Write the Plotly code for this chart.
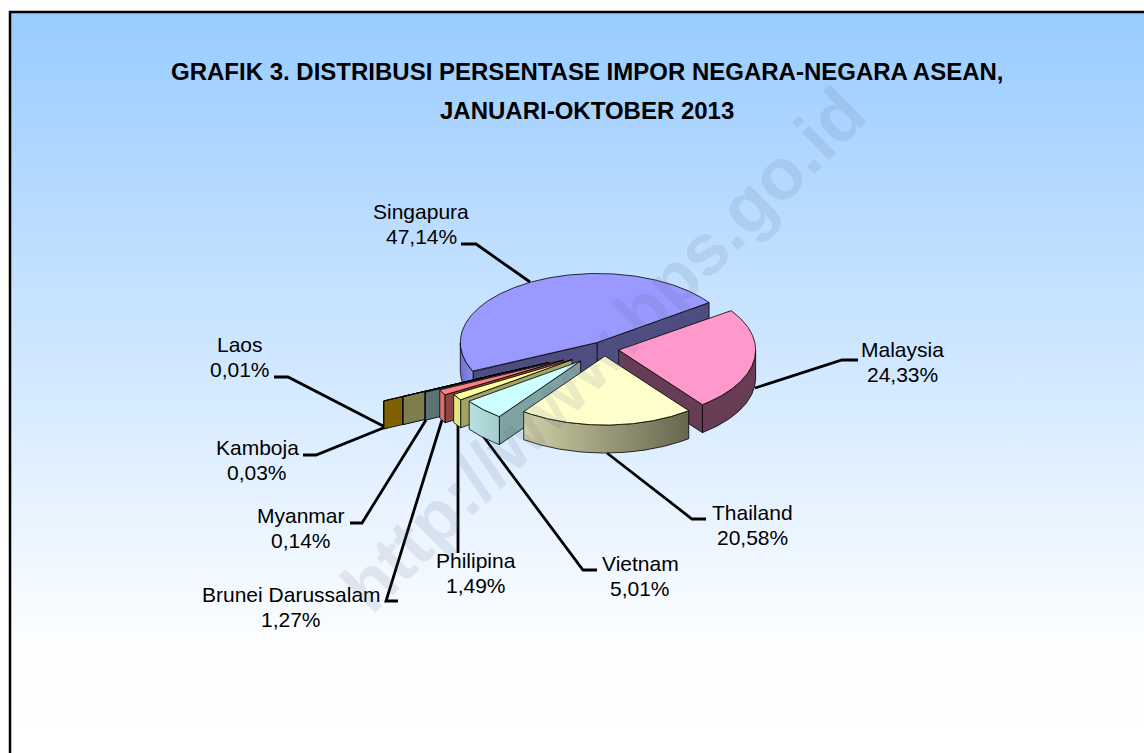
import numpy as np
import plotly.graph_objects as go

COUNTRIES = ["Singapura", "Malaysia", "Thailand", "Vietnam", "Philipina",
             "Brunei Darussalam", "Myanmar", "Kamboja", "Laos"]
SHARES = [47.14, 24.33, 20.58, 5.01, 1.49, 1.27, 0.14, 0.03, 0.01]
TITLE_LINES = ["GRAFIK 3. DISTRIBUSI PERSENTASE IMPOR NEGARA-NEGARA ASEAN,",
               "JANUARI-OKTOBER 2013"]
WATERMARK = "http://www.bps.go.id"

# pie projection, pixels
W, H = 1144, 753
CX, CY = 604.8, 349
RX, RY = 137, 69
DEPTH = 28
START_ANGLE = 205
EXPLODE = [15, 14, 14, 34, 39, 47, 62, 86, 107]

TOP_COL = ["#9999ff", "#ff99cc", "#ffffcc", "#ccffff", "#ffff99",
           "#ff8080", "#669999", "#999966", "#cc9900"]
CUT_COL = ["#4d4d80", "#663d55", "#80806a", "#7fa3a3", "#a3a366",
           "#8c4545", "#5c7373", "#7d7d4e", "#806000"]
WALL_COL = [("#7070d0", "#8a8ae6"), ("#663d55", "#663d55"), ("#cfcfa6", "#66664f"),
            ("#b9e0e0", "#a3cccc"), ("#e6e680", "#e0e080"), ("#e07070", "#d96c6c"),
            ("#5c7373", "#5c7373"), ("#7d7d4e", "#7d7d4e"), ("#806000", "#806000")]
DRAW_ORDER = [0, 8, 7, 6, 5, 4, 3, 1, 2]

# label centre, then leader line from the label to the slice
LABEL_POS = [(421, 224), (902, 362), (752, 525), (640, 576), (476, 573),
             (291, 607), (301, 528), (257, 460), (240, 357)]
LEADERS = [[(461, 244), (476, 244), (530, 282)],
           [(858, 360), (842, 360), (755, 388)],
           [(706, 519), (692, 519), (607, 453)],
           [(597, 570), (583, 570), (483, 436)],
           [(458, 553), (458, 425)],
           [(398, 601), (386, 601), (442, 420)],
           [(350, 523), (362, 523), (426, 420)],
           [(303, 455), (316, 455), (403, 420)],
           [(274, 377), (288, 377), (387, 428)]]

fig = go.Figure()


def add_poly(xs, ys, color=None, gradient=None, line="#000000", width=0.8):
    fig.add_trace(go.Scatter(
        x=xs, y=ys, mode="lines", fill="toself",
        fillcolor=color, fillgradient=gradient,
        line=dict(color=line, width=width),
        hoverinfo="skip", showlegend=False,
    ))


# background panel, runs off the right and bottom of the page
add_poly([10, 10, 1300, 1300, 10], [900, 12, 12, 900, 900],
         gradient=dict(type="vertical", start=12, stop=725,
                       colorscale=[[0, "#99ccff"], [0.871, "#fbfdff"], [1, "#ffffff"]]),
         width=2.5)

for pts in LEADERS:
    fig.add_trace(go.Scatter(
        x=[p[0] for p in pts], y=[p[1] for p in pts], mode="lines",
        line=dict(color="#000000", width=2.8),
        hoverinfo="skip", showlegend=False,
    ))

# slice angles run clockwise from the start angle
sweeps = np.array(SHARES) / 100 * 360
ends = START_ANGLE - np.cumsum(sweeps)
starts = ends + sweeps


def radial(theta):
    t = np.radians(theta)
    return RX * np.cos(t), -RY * np.sin(t)


for i in DRAW_ORDER:
    a0, a1 = starts[i], ends[i]
    ex, ey = radial((a0 + a1) / 2)
    ax = CX + ex / RX * EXPLODE[i]
    ay = CY + ey / RX * EXPLODE[i]

    thetas = np.linspace(a0, a1, max(int(abs(a0 - a1) * 2), 2))
    dx, dy = radial(thetas)
    arc_x, arc_y = ax + dx, ay + dy

    # cut faces that look towards the viewer
    if np.sin(np.radians(a0 + 90)) < 0:
        add_poly([ax, arc_x[0], arc_x[0], ax, ax],
                 [ay, arc_y[0], arc_y[0] + DEPTH, ay + DEPTH, ay], CUT_COL[i])
    if np.sin(np.radians(a1 - 90)) < 0:
        add_poly([ax, arc_x[-1], arc_x[-1], ax, ax],
                 [ay, arc_y[-1], arc_y[-1] + DEPTH, ay + DEPTH, ay], CUT_COL[i])

    # outer wall, front half of the rim only
    front = np.sin(np.radians(thetas)) <= 1e-9
    if front.sum() > 1:
        wx, wy = arc_x[front], arc_y[front]
        add_poly(list(wx) + list(wx[::-1]) + [wx[0]],
                 list(wy) + list(wy[::-1] + DEPTH) + [wy[0]],
                 gradient=dict(type="horizontal",
                               colorscale=[[0, WALL_COL[i][0]], [1, WALL_COL[i][1]]]))

    add_poly([ax] + list(arc_x) + [ax], [ay] + list(arc_y) + [ay], TOP_COL[i])

annotations = [
    dict(x=587, y=71.5, text="<b>" + TITLE_LINES[0] + "</b>",
         font=dict(family="Liberation Sans", size=24, color="#000000")),
    dict(x=587, y=110, text="<b>" + TITLE_LINES[1] + "</b>",
         font=dict(family="Liberation Sans", size=24, color="#000000")),
]

# name and value are separate so the line gap can follow the reference
for name, share, (lx, ly) in zip(COUNTRIES, SHARES, LABEL_POS):
    label_font = dict(family="Liberation Sans", size=21, color="#000000")
    annotations.append(dict(x=lx, y=ly - 12.5, text=name, font=label_font))
    annotations.append(dict(x=lx, y=ly + 12.5,
                            text=f"{share:.2f}".replace(".", ",") + "%", font=label_font))

annotations.append(dict(
    x=603, y=350, text="<b>" + WATERMARK + "</b>", textangle=-45,
    font=dict(family="Liberation Sans", size=72, color="rgba(90,100,130,0.13)"),
))

for a in annotations:
    a.update(xref="x", yref="y", showarrow=False, xanchor="center", yanchor="middle")

fig.update_layout(
    width=W, height=H,
    margin=dict(l=0, r=0, t=0, b=0),
    paper_bgcolor="#ffffff", plot_bgcolor="#ffffff",
    showlegend=False,
    annotations=annotations,
    xaxis=dict(range=[0, W], visible=False, fixedrange=True),
    yaxis=dict(range=[H, 0], visible=False, fixedrange=True),
)

fig.write_html("out.html", post_script="document.body.style.margin='0';",
               config=dict(displayModeBar=False))
